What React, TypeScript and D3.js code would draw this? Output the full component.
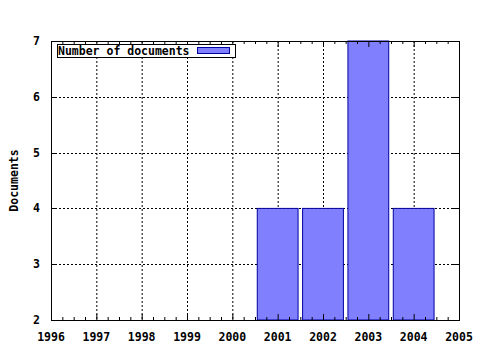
import React from "react";
import * as d3 from "d3";

const years = [2001, 2002, 2003, 2004];
const documents = [4, 4, 7, 4];
const xTicks = [1996, 1997, 1998, 1999, 2000, 2001, 2002, 2003, 2004, 2005];
const yTicks = [2, 3, 4, 5, 6, 7];
const seriesName = "Number of documents";
const yTitle = "Documents";

const W = 480, H = 350;
const L = 51, R = 459, T = 41, B = 320;
const FONT = "'DejaVu Sans Mono', monospace";
const FS = 11.5;

export default function App() {
  const x = d3.scaleLinear().domain([1996, 2005]).range([L, R]);
  const y = d3.scaleLinear().domain([2, 7]).range([B, T]);
  const minor: number[] = [];
  for (let v = 1996; v < 2005; v++) for (let k = 1; k < 4; k++) minor.push(v + k / 4);
  const bw = 0.9;
  return (
    <svg width={W} height={H} style={{ position: "absolute", left: 0, top: 0, background: "#fff" }}>
      <rect x={0} y={0} width={W} height={H} fill="#fff" />
      {/* grid */}
      {xTicks.slice(1, -1).map((t) => (
        <line key={"gx" + t} x1={x(t) + 0.5} x2={x(t) + 0.5} y1={T} y2={B} stroke="#000" strokeDasharray="2,2" strokeWidth={1} />
      ))}
      {yTicks.slice(1, -1).map((t) => (
        <line key={"gy" + t} x1={L} x2={R} y1={Math.round(y(t)) + 0.5} y2={Math.round(y(t)) + 0.5} stroke="#000" strokeDasharray="2,2" strokeWidth={1} />
      ))}
      {/* bars */}
      {years.map((yr, i) => (
        <rect key={yr} x={x(yr - bw / 2)} y={y(documents[i])} width={x(yr + bw / 2) - x(yr - bw / 2)} height={y(2) - y(documents[i])}
          fill="#8080ff" stroke="#0000a0" strokeWidth={1} />
      ))}
      {/* ticks */}
      {xTicks.map((t) => (
        <g key={"tx" + t}>
          <line x1={x(t) + 0.5} x2={x(t) + 0.5} y1={B} y2={B - 6} stroke="#000" />
          <line x1={x(t) + 0.5} x2={x(t) + 0.5} y1={T} y2={T + 6} stroke="#000" />
          <text x={x(t)} y={341} textAnchor="middle" fontFamily={FONT} fontWeight="bold" fontSize={FS}>{t}</text>
        </g>
      ))}
      {minor.map((t) => (
        <g key={"mx" + t}>
          <line x1={x(t) + 0.5} x2={x(t) + 0.5} y1={B} y2={B - 3} stroke="#000" />
          <line x1={x(t) + 0.5} x2={x(t) + 0.5} y1={T} y2={T + 3} stroke="#000" />
        </g>
      ))}
      {yTicks.map((t) => (
        <g key={"ty" + t}>
          <line x1={L} x2={L + 6} y1={Math.round(y(t)) + 0.5} y2={Math.round(y(t)) + 0.5} stroke="#000" />
          <line x1={R} x2={R - 6} y1={Math.round(y(t)) + 0.5} y2={Math.round(y(t)) + 0.5} stroke="#000" />
          <text x={40} y={y(t) + 4} textAnchor="end" fontFamily={FONT} fontWeight="bold" fontSize={FS}>{t}</text>
        </g>
      ))}
      {/* border */}
      <rect x={L + 0.5} y={T + 0.5} width={R - L} height={B - T} fill="none" stroke="#000" />
      {/* y title */}
      <text transform={`translate(18,${(T + B) / 2}) rotate(-90)`} textAnchor="middle" fontFamily={FONT} fontWeight="bold" fontSize={FS}>{yTitle}</text>
      {/* legend */}
      <rect x={57.5} y={44.5} width={178} height={13} fill="#fff" stroke="#000" />
      <text x={58} y={55} fontFamily={FONT} fontWeight="bold" fontSize={FS}>{seriesName}</text>
      <rect x={197.5} y={47.5} width={32} height={6} fill="#8080ff" stroke="#0000a0" />
    </svg>
  );
}
